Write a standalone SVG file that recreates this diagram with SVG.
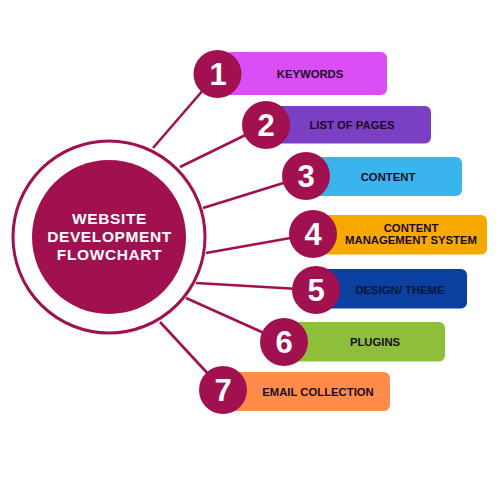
<svg xmlns="http://www.w3.org/2000/svg" width="501" height="498" viewBox="0 0 501 498">
<style>
.bar{stroke:none}
.num{fill:#a1114f}
.numt{font-family:"Liberation Sans",Arial,sans-serif;font-weight:bold;font-size:31px;fill:#ffffff;text-anchor:middle}
.lbl{font-family:"Liberation Sans",Arial,sans-serif;font-weight:bold;font-size:11.3px;fill:#1c0b26;text-anchor:middle}
.conn{stroke:#a1114f;stroke-width:2.6;fill:none}
.ctr{font-family:"Liberation Sans",Arial,sans-serif;font-weight:bold;font-size:15.5px;letter-spacing:0.6px;fill:#ffffff;text-anchor:middle}
</style>
<rect width="501" height="498" fill="#ffffff"/>
<g id="connectors">
<line class="conn" x1="153" y1="148" x2="217" y2="74"/>
<line class="conn" x1="180" y1="167" x2="266" y2="125"/>
<line class="conn" x1="203" y1="208" x2="306" y2="176"/>
<line class="conn" x1="206" y1="253" x2="313" y2="234"/>
<line class="conn" x1="196" y1="283" x2="316" y2="290"/>
<line class="conn" x1="186" y1="298" x2="284" y2="342"/>
<line class="conn" x1="160" y1="322" x2="223" y2="390"/>
</g>
<g id="center">
<circle cx="109" cy="237" r="96" fill="#ffffff" stroke="#a1114f" stroke-width="3"/>
<circle cx="109" cy="237" r="77" fill="#a1114f"/>
<text class="ctr" x="109.5" y="224">WEBSITE</text>
<text class="ctr" x="109.5" y="242">DEVELOPMENT</text>
<text class="ctr" x="109.5" y="260">FLOWCHART</text>
</g>
<g id="node1">
<rect class="bar" x="225" y="52" width="162" height="43" rx="6" fill="#d94ff5"/>
<circle class="num" cx="217.5" cy="74" r="24"/>
<text class="numt" x="218" y="85">1</text>
<text class="lbl" x="310" y="77.8">KEYWORDS</text>
</g>
<g id="node2">
<rect class="bar" x="272" y="106" width="159" height="37.5" rx="6" fill="#7b3fc4"/>
<circle class="num" cx="266" cy="125" r="24"/>
<text class="numt" x="266" y="136">2</text>
<text class="lbl" x="352" y="128.5">LIST OF PAGES</text>
</g>
<g id="node3">
<rect class="bar" x="312" y="157" width="150" height="39" rx="6" fill="#3ab4ec"/>
<circle class="num" cx="306" cy="176" r="24"/>
<text class="numt" x="306" y="187">3</text>
<text class="lbl" x="388" y="180.8">CONTENT</text>
</g>
<g id="node4">
<rect class="bar" x="320" y="215" width="167" height="39.5" rx="6" fill="#f8a900"/>
<circle class="num" cx="313" cy="234" r="24"/>
<text class="numt" x="313" y="245">4</text>
<text class="lbl" x="411" y="231.7">CONTENT</text>
<text class="lbl" x="411" y="243.5">MANAGEMENT SYSTEM</text>
</g>
<g id="node5">
<rect class="bar" x="322" y="269" width="145" height="39.5" rx="6" fill="#0b3fa0"/>
<circle class="num" cx="316" cy="290" r="24"/>
<text class="numt" x="316" y="301">5</text>
<text class="lbl" x="400" y="293.5" style="fill:#0a1638">DESIGN/ THEME</text>
</g>
<g id="node6">
<rect class="bar" x="290" y="322" width="155" height="39.5" rx="6" fill="#8dbf3a"/>
<circle class="num" cx="284" cy="342" r="24"/>
<text class="numt" x="284" y="353">6</text>
<text class="lbl" x="375" y="345.8">PLUGINS</text>
</g>
<g id="node7">
<rect class="bar" x="229" y="372" width="161" height="39" rx="6" fill="#ff8c4a"/>
<circle class="num" cx="223" cy="390" r="24"/>
<text class="numt" x="223" y="401">7</text>
<text class="lbl" x="318" y="396">EMAIL COLLECTION</text>
</g>
</svg>
